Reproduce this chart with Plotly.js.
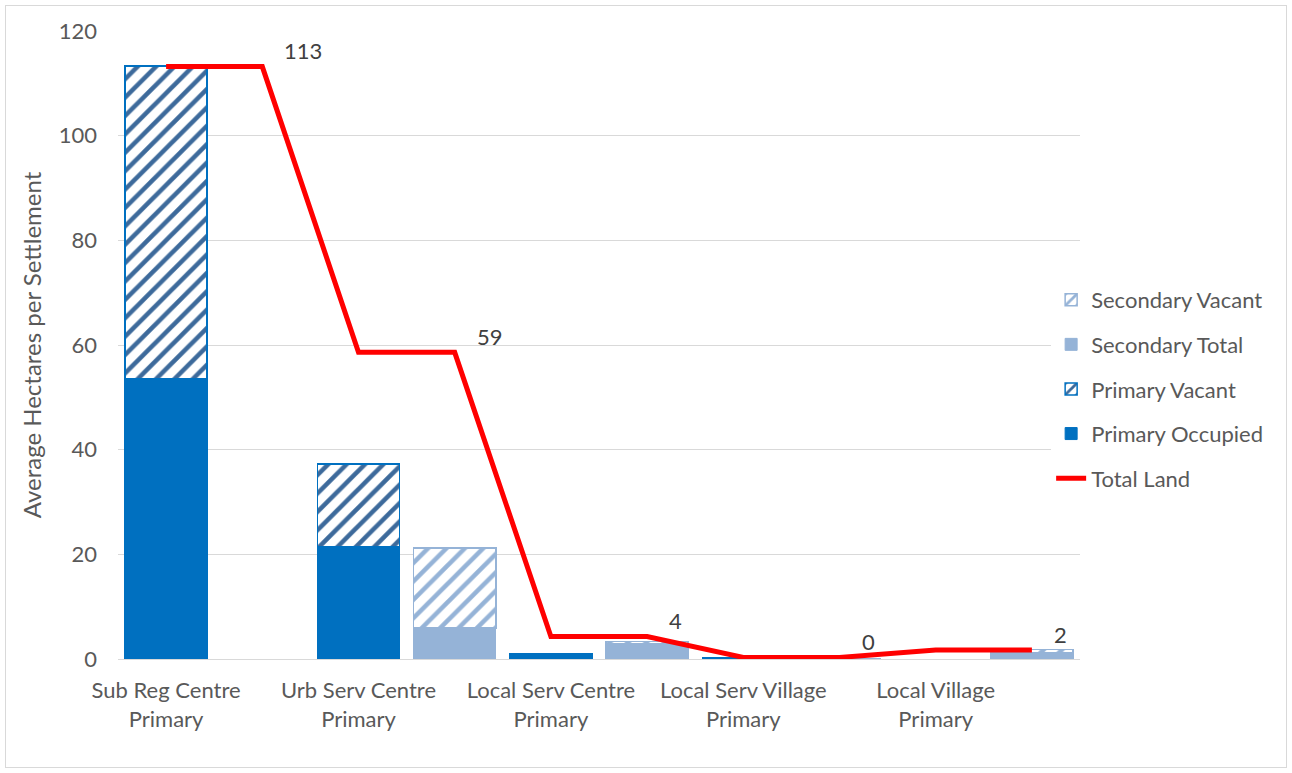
<!DOCTYPE html>
<html>
<head>
<meta charset="utf-8">
<script src="https://cdn.plot.ly/plotly-3.0.1.min.js"></script>
<style>
  html, body { margin: 0; padding: 0; background: #ffffff; }
  #wrap { position: relative; width: 1292px; height: 773px; }
  #chart { width: 1292px; height: 773px; }
  #frame { position: absolute; left: 5px; top: 5px; width: 1280px; height: 761px;
           border: 1px solid #D9D9D9; pointer-events: none; }
</style>
</head>
<body>
<div id="wrap"><div id="chart"></div><div id="frame"></div></div>
<script>
// ---- data ----
var categories = [
  "Sub Reg Centre Primary", "Sub Reg Centre Secondary",
  "Urb Serv Centre Primary", "Urb Serv Centre Secondary",
  "Local Serv Centre Primary", "Local Serv Centre Secondary",
  "Local Serv Village Primary", "Local Serv Village Secondary",
  "Local Village Primary", "Local Village Secondary"
];
var tickCategories = [
  "Sub Reg Centre Primary", "Urb Serv Centre Primary", "Local Serv Centre Primary",
  "Local Serv Village Primary", "Local Village Primary"
];
var tickLabels = [
  "Sub Reg Centre<br>Primary", "Urb Serv Centre<br>Primary", "Local Serv Centre<br>Primary",
  "Local Serv Village<br>Primary", "Local Village<br>Primary"
];
var primaryOccupied = [53.5, null, 21.4, null, 1.0, null, 0.2, null, null, null];
var primaryVacant   = [59.8, null, 15.9, null, null, null, null, null, null, null];
var secondaryTotal  = [null, null, null, 5.9, null, 2.9, null, 0.1, null, 1.2];
var secondaryVacant = [null, null, null, 15.3, null, 0.4, null, null, null, 0.6];
var totalLand       = [113.2, 113.2, 58.6, 58.6, 4.3, 4.3, 0.3, 0.3, 1.7, 1.7];
var totalLabels     = ["", "113", "", "59", "", "4", "", "0", "", "2"];

// ---- styles ----
var FONT = "Lato, 'Open Sans', sans-serif";
var GREY = "#595959";

var traces = [
  {
    type: "bar", name: "Primary Occupied", x: categories, y: primaryOccupied,
    marker: { color: "#0070C0", line: { color: "#0070C0", width: 1 } },
    legendgroup: "g4", legendrank: 4
  },
  {
    type: "bar", name: "Primary Vacant", x: categories, y: primaryVacant,
    marker: {
      color: "#FFFFFF",
      line: { color: "#0070C0", width: 1.5 },
      pattern: { shape: "/", fgcolor: "#3D6A9B", bgcolor: "#FFFFFF", size: 13, solidity: 0.35 }
    },
    legendgroup: "g3", legendrank: 3
  },
  {
    type: "bar", name: "Secondary Total", x: categories, y: secondaryTotal,
    marker: { color: "#95B3D7", line: { color: "#95B3D7", width: 1 } },
    legendgroup: "g2", legendrank: 2
  },
  {
    type: "bar", name: "Secondary Vacant", x: categories, y: secondaryVacant,
    marker: {
      color: "#FFFFFF",
      line: { color: "#95B3D7", width: 1.5 },
      pattern: { shape: "/", fgcolor: "#95B3D7", bgcolor: "#FFFFFF", size: 13, solidity: 0.35 }
    },
    legendgroup: "g1", legendrank: 1
  },
  {
    type: "scatter", mode: "lines", name: "Total Land",
    x: categories, y: totalLand,
    line: { color: "#FF0000", width: 5 },
    legendgroup: "g5", legendrank: 5, hoverinfo: "y"
  }
];

var annotations = [];
for (var i = 0; i < categories.length; i++) {
  if (totalLabels[i] !== "") {
    annotations.push({
      x: categories[i], y: totalLand[i], xref: "x", yref: "y",
      text: totalLabels[i], showarrow: false,
      xanchor: "left", yanchor: "middle", xshift: 20, yshift: 16,
      font: { family: FONT, size: 22, color: "#404040" }
    });
  }
}

var layout = {
  width: 1292, height: 773,
  margin: { l: 118, r: 212, t: 31, b: 114 },
  paper_bgcolor: "#FFFFFF", plot_bgcolor: "#FFFFFF",
  barmode: "stack", bargap: 0.145,
  font: { family: FONT, size: 22, color: GREY },
  showlegend: true,
  legend: {
    x: 0.97, xanchor: "left", y: 0.43, yanchor: "middle",
    traceorder: "grouped", tracegroupgap: 13,
    bgcolor: "#FFFFFF", font: { family: FONT, size: 22, color: GREY }
  },
  xaxis: {
    type: "category", categoryorder: "array", categoryarray: categories,
    range: [-0.5, 9.5],
    tickmode: "array", tickvals: tickCategories, ticktext: tickLabels,
    showgrid: false, showline: false, zeroline: false, ticks: "",
    ticklabelstandoff: 16,
    tickfont: { family: FONT, size: 22, color: GREY }
  },
  yaxis: {
    range: [0, 120], dtick: 20, tick0: 0,
    showgrid: true, gridcolor: "#D9D9D9", gridwidth: 1,
    zeroline: true, zerolinecolor: "#D9D9D9", zerolinewidth: 1,
    showline: false, ticks: "", ticklen: 0,
    ticklabelstandoff: 20,
    tickfont: { family: FONT, size: 22, color: GREY },
    title: { text: "Average Hectares per Settlement", standoff: 10,
             font: { family: FONT, size: 24, color: GREY } }
  },
  annotations: annotations
};

Plotly.newPlot("chart", traces, layout, { displayModeBar: false, staticPlot: true });
</script>
</body>
</html>
